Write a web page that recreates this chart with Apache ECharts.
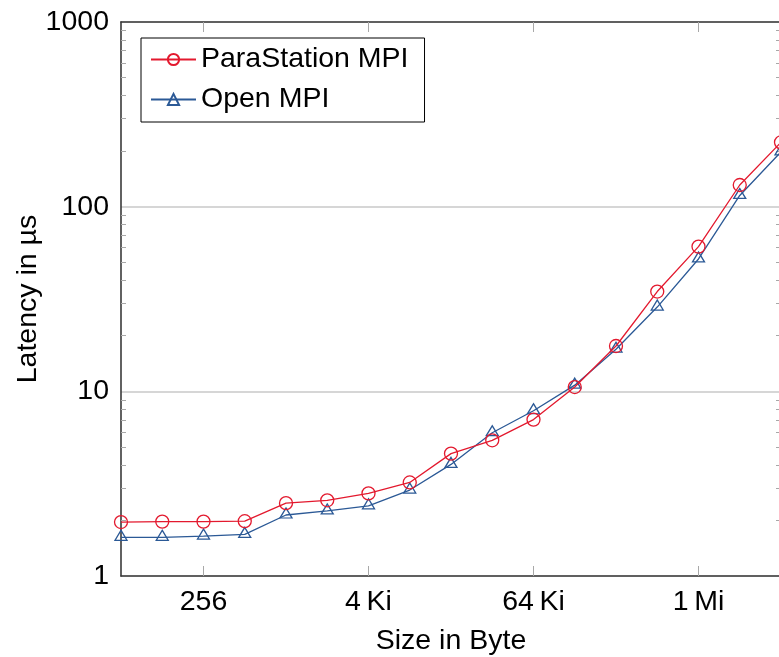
<!DOCTYPE html>
<html>
<head>
<meta charset="utf-8">
<script src="https://cdn.jsdelivr.net/npm/echarts@6/dist/echarts.min.js"></script>
<style>
html,body{margin:0;padding:0;background:#fff;}
#chart{width:779px;height:657px;}
</style>
</head>
<body>
<div id="chart"></div>
<script>
// Message sizes in bytes
var sizes = [64, 128, 256, 512, 1024, 2048, 4096, 8192, 16384, 32768, 65536, 131072, 262144, 524288, 1048576, 2097152, 4194304];
// Latency in microseconds
var psmpi = [1.96, 1.97, 1.97, 1.98, 2.48, 2.57, 2.80, 3.21, 4.60, 5.43, 7.03, 10.55, 17.6, 34.7, 60.8, 131, 223];
var ompi  = [1.62, 1.62, 1.645, 1.68, 2.14, 2.25, 2.40, 2.92, 4.02, 5.97, 7.85, 10.8, 16.9, 28.6, 52.1, 115, 198];
// X tick positions and labels
var xTickValues = [256, 4096, 65536, 1048576];
var xTickLabels = ['256', '4\u2009Ki', '64\u2009Ki', '1\u2009Mi'];
// Y decades
var yDecades = [1, 10, 100];
var yMinorTicks = [];
yDecades.forEach(function (d) { for (var k = 2; k <= 9; k++) yMinorTicks.push(d * k); });

var FONT = '"Liberation Sans", Arial, sans-serif';
var FS = 28.5;
var AXIS_COLOR = '#3a3a3a';
var TICK_COLOR = '#a8a8a8';

var chart = echarts.init(document.getElementById('chart'), null, {renderer: 'canvas'});

function minorY(pos, showLine) {
  return {
    type: 'log', logBase: 10, min: 1, max: 1000, position: pos,
    axisLine: {show: showLine, lineStyle: {color: AXIS_COLOR, width: 1.6}},
    axisTick: {show: true, inside: true, length: 5, customValues: yMinorTicks, lineStyle: {color: TICK_COLOR, width: 1}},
    axisLabel: {show: false},
    splitLine: {show: false}
  };
}

var option = {
  animation: false,
  backgroundColor: '#ffffff',
  grid: {left: 121, top: 22, right: -2, bottom: 81, containLabel: false, outerBoundsMode: 'none'},
  legend: {
    left: 141, top: 38,
    orient: 'vertical',
    backgroundColor: '#ffffff',
    borderColor: '#000000', borderWidth: 1,
    padding: [7, 16, 8, 9],
    itemWidth: 45, itemHeight: 14,
    itemGap: 11,
    textStyle: {fontFamily: FONT, fontSize: FS, color: '#000'},
    data: ['ParaStation MPI', 'Open MPI']
  },
  xAxis: [
    {
      type: 'log', logBase: 2, min: 64, max: 4194304, position: 'bottom',
      name: 'Size in Byte', nameLocation: 'middle', nameGap: 51, nameMoveOverlap: false,
      nameTextStyle: {fontFamily: FONT, fontSize: FS, color: '#000'},
      axisLine: {show: true, lineStyle: {color: AXIS_COLOR, width: 1.6}},
      axisTick: {show: true, inside: true, length: 10, customValues: xTickValues, lineStyle: {color: TICK_COLOR, width: 1}},
      axisLabel: {
        show: true, customValues: xTickValues, margin: 12,
        fontFamily: FONT, fontSize: FS, color: '#000',
        formatter: function (v) {
          for (var i = 0; i < xTickValues.length; i++) {
            if (Math.abs(v - xTickValues[i]) / xTickValues[i] < 1e-6) return xTickLabels[i];
          }
          return '';
        }
      },
      splitLine: {show: false}
    },
    {
      type: 'log', logBase: 2, min: 64, max: 4194304, position: 'top',
      axisLine: {show: true, lineStyle: {color: AXIS_COLOR, width: 1.6}},
      axisTick: {show: true, inside: true, length: 10, customValues: xTickValues, lineStyle: {color: TICK_COLOR, width: 1}},
      axisLabel: {show: false},
      splitLine: {show: false}
    }
  ],
  yAxis: [
    {
      type: 'log', logBase: 10, min: 1, max: 1000, position: 'left',
      name: 'Latency in µs', nameLocation: 'middle', nameGap: 78, nameRotate: 90, nameMoveOverlap: false,
      nameTextStyle: {fontFamily: FONT, fontSize: FS, color: '#000'},
      axisLine: {show: true, lineStyle: {color: AXIS_COLOR, width: 1.6}},
      axisTick: {show: false},
      axisLabel: {show: true, margin: 12, fontFamily: FONT, fontSize: FS, color: '#000',
        formatter: function (v) { return String(Math.round(v)); }},
      splitLine: {show: true, lineStyle: {color: '#c8c8c8', width: 1.5}}
    },
    minorY('left', false),
    minorY('right', true)
  ],
  series: [
    {
      name: 'ParaStation MPI', type: 'line', xAxisIndex: 0, yAxisIndex: 0,
      data: sizes.map(function (s, i) { return [s, psmpi[i]]; }),
      color: '#e3192e',
      lineStyle: {color: '#e3192e', width: 1.3},
      symbol: 'circle', symbolSize: 13, showAllSymbol: true,
      itemStyle: {color: 'rgba(255,255,255,0)', borderColor: '#e3192e', borderWidth: 1.3},
      clip: true, z: 3
    },
    {
      name: 'Open MPI', type: 'line', xAxisIndex: 0, yAxisIndex: 0,
      data: sizes.map(function (s, i) { return [s, ompi[i]]; }),
      color: '#2b5996',
      lineStyle: {color: '#2b5996', width: 1.3},
      symbol: 'triangle', symbolSize: [12, 10], symbolOffset: [0, -2], showAllSymbol: true,
      itemStyle: {color: 'rgba(255,255,255,0)', borderColor: '#2b5996', borderWidth: 1.3},
      clip: true, z: 2
    }
  ]
};
chart.setOption(option);
</script>
</body>
</html>
